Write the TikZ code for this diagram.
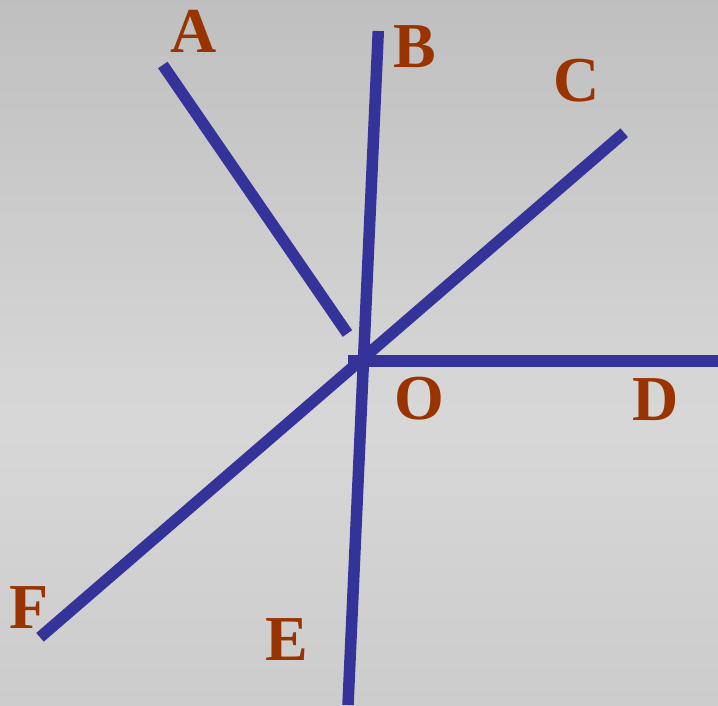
\documentclass[tikz,border=0pt]{standalone}
\usepackage{fontspec}
\setmainfont{Liberation Serif}
\definecolor{linblue}{HTML}{333399}
\definecolor{labred}{HTML}{993300}
\definecolor{bgtop}{gray}{0.75}
\definecolor{bgmid}{gray}{0.845}
\definecolor{bgbot}{gray}{0.80}
\begin{document}
\begin{tikzpicture}[x=1pt,y=-1pt,
  ray/.style={draw=linblue,line width=11.5pt,line cap=butt},
  lab/.style={text=labred,font=\fontsize{64}{64}\selectfont\bfseries,inner sep=0pt,anchor=base}]
\useasboundingbox (0,0) rectangle (718,705);
\begin{scope}[y=1pt]
\shade[top color=bgtop,bottom color=bgmid] (0,-420) rectangle (718,0);
\shade[top color=bgmid,bottom color=bgbot] (0,-705.5) rectangle (718,-419.5);
\end{scope}
% points
\coordinate (pA) at (162.8,65);
\coordinate (pAo) at (347.4,333.5);
\coordinate (pB) at (378.3,31);
\coordinate (pE) at (348,705);
\coordinate (pC) at (624.2,132.7);
\coordinate (pF) at (40,637.3);
\coordinate (pDo) at (347.7,361);
\coordinate (pD) at (718,361);
% rays
\draw[ray] (pA) -- (pAo);
\draw[ray] (pB) -- (pE);
\draw[ray] (pC) -- (pF);
\draw[ray] (pDo) -- (pD);
% labels
\node[lab] (lA) at (193.5,52) {A};
\node[lab] (lB) at (414.5,67.7) {B};
\node[lab] (lC) at (576.7,101.5) {C};
\node[lab] (lO) at (419,419.5) {O};
\node[lab] (lD) at (656,420) {D};
\node[lab] (lF) at (29.5,628.3) {F};
\node[lab] (lE) at (286.7,660.7) {E};
\end{tikzpicture}
\end{document}
